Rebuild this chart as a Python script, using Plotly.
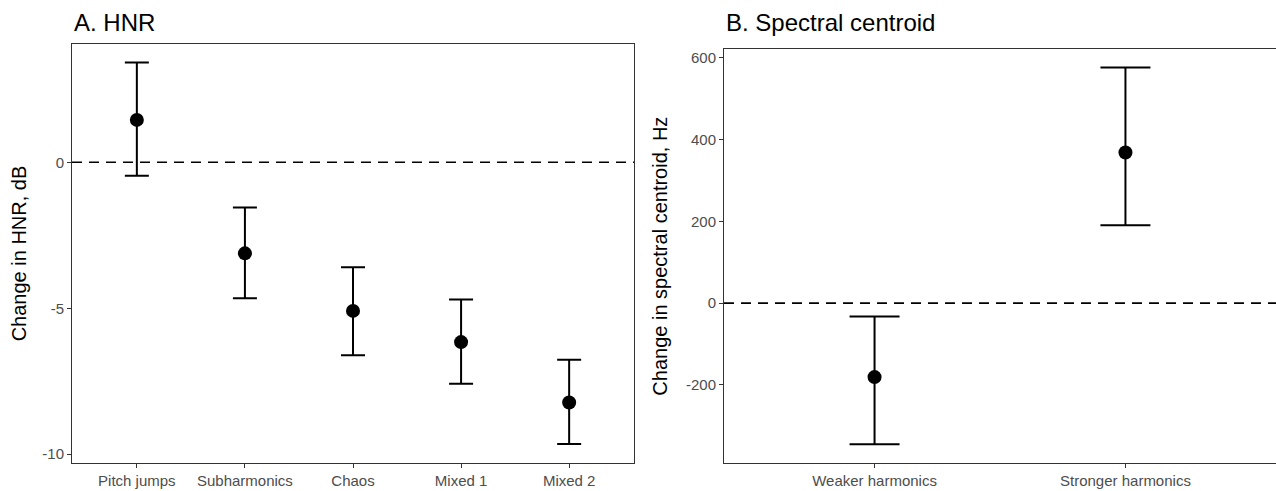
import plotly.graph_objects as go

# Panel A data
hnr_categories = ["Pitch jumps", "Subharmonics", "Chaos", "Mixed 1", "Mixed 2"]
hnr_mean = [1.45, -3.12, -5.09, -6.16, -8.23]
hnr_upper = [3.42, -1.55, -3.60, -4.70, -6.76]
hnr_lower = [-0.46, -4.66, -6.61, -7.59, -9.65]
hnr_ticks = [0, -5, -10]

# Panel B data
sc_categories = ["Weaker harmonics", "Stronger harmonics"]
sc_mean = [-181, 368]
sc_upper = [-33, 576]
sc_lower = [-345, 190]
sc_ticks = [600, 400, 200, 0, -200]

W, H = 1276, 491
FONT = "Liberation Sans, Arial, Helvetica, sans-serif"

fig = go.Figure()

def add_panel(cats, mean, up, lo, xa, ya, capw):
    fig.add_trace(go.Scatter(
        x=cats, y=mean, mode="markers",
        marker=dict(color="black", size=14),
        error_y=dict(type="data", symmetric=False,
                     array=[u - m for u, m in zip(up, mean)],
                     arrayminus=[m - l for m, l in zip(mean, lo)],
                     color="black", thickness=2, width=capw),
        xaxis=xa, yaxis=ya, showlegend=False, cliponaxis=False,
    ))

add_panel(hnr_categories, hnr_mean, hnr_upper, hnr_lower, "x", "y", 12)
add_panel(sc_categories, sc_mean, sc_upper, sc_lower, "x2", "y2", 25)

tickfont = dict(family=FONT, size=15, color="#4d4d4d")
titlefont = dict(family=FONT, size=20, color="black")
axcommon = dict(showgrid=False, zeroline=False, showline=True, linecolor="#333333",
                linewidth=1, mirror=True, ticks="outside", ticklen=4, tickwidth=1,
                tickcolor="#333333", tickfont=tickfont)

fig.update_layout(
    width=W, height=H, margin=dict(l=0, r=0, t=0, b=0),
    plot_bgcolor="white", paper_bgcolor="white",
    xaxis=dict(domain=[72 / W, 634 / W], range=[-0.6, 4.6], anchor="y",
               **axcommon),
    yaxis=dict(domain=[1 - 463 / H, 1 - 44 / H], range=[-10.3, 4.05], anchor="x",
               tickvals=hnr_ticks, ticktext=[str(t) for t in hnr_ticks],
               title=dict(text="Change in HNR, dB", font=titlefont, standoff=10),
               **axcommon),
    xaxis2=dict(domain=[724 / W, 1.0], range=[-0.6, 1.6], anchor="y2",
                **axcommon),
    yaxis2=dict(domain=[1 - 463 / H, 1 - 49.3 / H], range=[-391, 620.5], anchor="x2",
                tickvals=sc_ticks, ticktext=[str(t) for t in sc_ticks],
                title=dict(text="Change in spectral centroid, Hz", font=titlefont, standoff=12),
                **axcommon),
    shapes=[
        dict(type="line", xref="x domain", yref="y", x0=0, x1=1, y0=0, y1=0,
             line=dict(color="black", width=1.6, dash="10px,7px")),
        dict(type="line", xref="x2 domain", yref="y2", x0=0, x1=1, y0=0, y1=0,
             line=dict(color="black", width=1.6, dash="10px,7px")),
    ],
    annotations=[
        dict(text="A. HNR", xref="paper", yref="paper", x=72 / W, y=1 - 23 / H,
             xanchor="left", yanchor="middle", showarrow=False,
             font=dict(family=FONT, size=24, color="black")),
        dict(text="B. Spectral centroid", xref="paper", yref="paper", x=724 / W, y=1 - 23 / H,
             xanchor="left", yanchor="middle", showarrow=False,
             font=dict(family=FONT, size=24, color="black")),
    ],
)

fig.write_html("out.html", config={"displayModeBar": False},
               post_script="document.body.style.margin='0';document.body.style.overflow='hidden';")
